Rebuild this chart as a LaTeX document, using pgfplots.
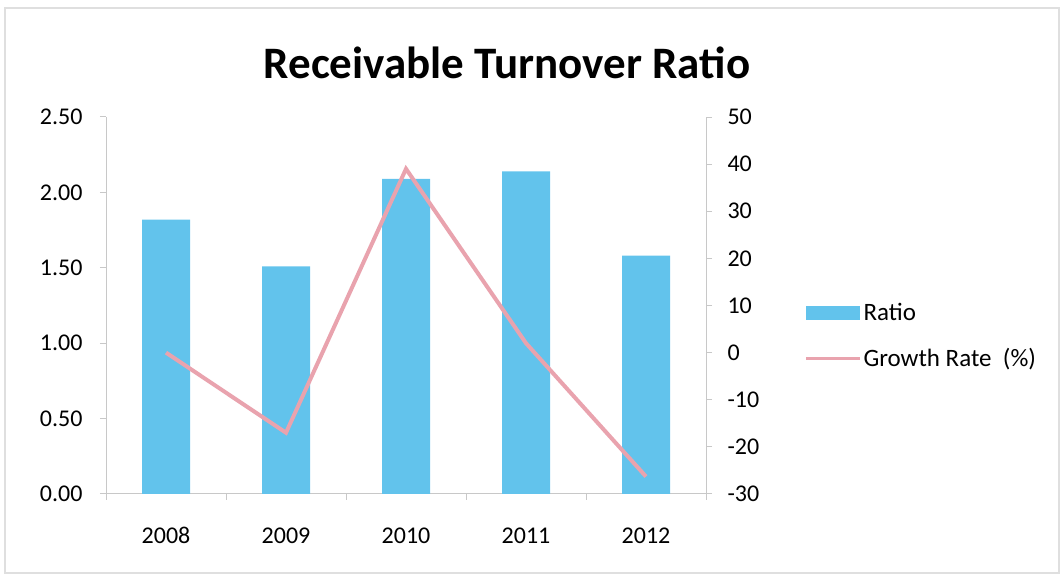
\documentclass[border=0pt]{standalone}
\usepackage{fontspec}
\setmainfont{Carlito}
\usepackage{pgfplots}
\pgfplotsset{compat=1.18}
\definecolor{barblue}{HTML}{62C3EC}
\definecolor{linepink}{HTML}{E9A3AE}
\definecolor{axgray}{HTML}{C8C8C8}
\begin{document}
\begin{tikzpicture}[x=1pt,y=1pt]
\path[use as bounding box] (0,0) rectangle (1061,575);
\draw[gray!25, line width=2pt] (5,2) rectangle (1059,567);
\node[font=\fontsize{45}{54}\selectfont\bfseries] at (507,512) {Receivable Turnover Ratio};
\begin{axis}[at={(106pt,81pt)}, anchor=south west, scale only axis,
  width=600pt, height=377pt,
  xmin=-0.5, xmax=4.5, ymin=0, ymax=2.5,
  axis x line*=bottom, axis y line*=left,
  ytick={0,0.5,...,2.5},
  yticklabel style={font=\fontsize{24}{28}\selectfont, xshift=-14pt, /pgf/number format/.cd, fixed, fixed zerofill, precision=2, assume math mode=true},
  xtick={-0.5,0.5,...,4.5}, xticklabels={,,,,,,},
  extra x ticks={0,1,2,3,4}, extra x tick labels={2008,2009,2010,2011,2012},
  extra x tick style={major tick length=0pt, xticklabel style={font=\fontsize{24}{28}\selectfont, yshift=-30pt}},
  tick align=outside, major tick length=6pt,
  axis line style={axgray, line width=1pt}, tick style={axgray, line width=1pt},
  ybar, bar width=48pt, bar shift=0pt,
  clip=false,
]
\addplot[fill=barblue, draw=none] coordinates {(0,1.82) (1,1.51) (2,2.09) (3,2.14) (4,1.58)};
\end{axis}
\begin{axis}[at={(106pt,81pt)}, anchor=south west, scale only axis,
  width=600pt, height=377pt,
  xmin=-0.5, xmax=4.5, ymin=-30, ymax=50,
  axis x line=none, axis y line*=right,
  ytick={-30,-20,...,50},
  yticklabel style={font=\fontsize{24}{28}\selectfont, xshift=12pt, /pgf/number format/assume math mode=true},
  tick align=outside, major tick length=6pt,
  axis line style={axgray, line width=1pt}, tick style={axgray, line width=1pt},
  legend style={at={(1.163,0.420)}, anchor=west, draw=none, fill=none, inner sep=0pt,
    font=\fontsize{25}{30}\selectfont, row sep=23pt, cells={anchor=west}},
  clip=false,
]
\addlegendimage{legend image code/.code={\fill[barblue] (0pt,-6.5pt) rectangle (53pt,6.5pt);}}
\addlegendentry{Ratio}
\addplot[linepink, line width=4pt, legend image code/.code={\draw[linepink, line width=3.5pt] (0pt,0pt) -- (54pt,0pt);}]
  coordinates {(0,0) (1,-17) (2,39) (3,2) (4,-26.3)};
\addlegendentry{Growth Rate\ \ (\%)}
\end{axis}
\end{tikzpicture}
\end{document}
